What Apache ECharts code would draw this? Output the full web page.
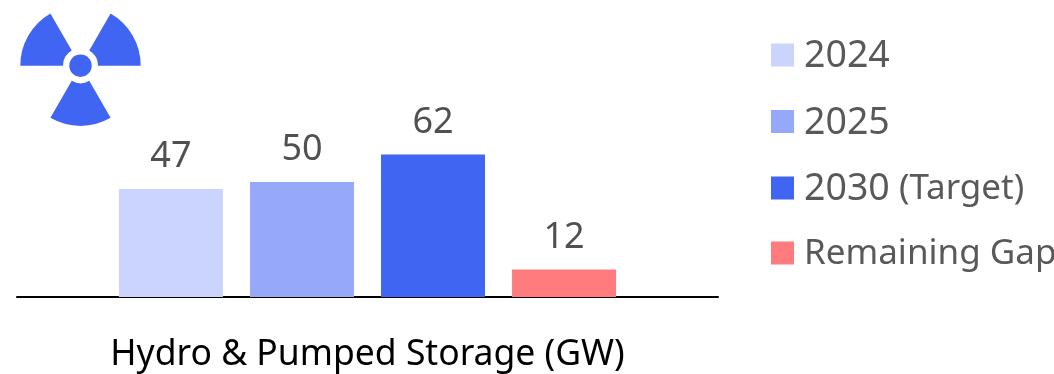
<!DOCTYPE html>
<html>
<head>
<meta charset="utf-8">
<style>html,body{margin:0;padding:0;background:#fff}#c{width:1054px;height:374px}</style>
<script src="https://cdn.jsdelivr.net/npm/echarts@6/dist/echarts.min.js"></script>
</head>
<body>
<div id="c"></div>
<script>
const categories = ['Hydro & Pumped Storage (GW)'];
const seriesNames = ['2024', '2025', '2030 (Target)', 'Remaining Gap'];
const seriesValues = [[47], [50], [62], [12]];
const seriesColors = ['#CAD4FD', '#96A8F9', '#4165F3', '#FF7B7D'];
const FONT = '"Noto Sans", sans-serif';
const BLUE = '#4165F3';

const chart = echarts.init(document.getElementById('c'), null, {renderer: 'canvas'});

// Trefoil emblem: three 60-degree blades around a central dot
const CX = 80.5, CY = 65.7;
const blade = (a0, a1) => ({
  type: 'sector',
  shape: {cx: CX, cy: CY, r: 60.2, r0: 17.5, startAngle: a0 * Math.PI / 180, endAngle: a1 * Math.PI / 180},
  style: {fill: BLUE}
});

// Years run slightly larger than the words beside them
const legendLabel = name => name.replace(/(\d+)?(.*)/, (m, d, t) =>
  (d ? `{d|${d}}` : '') + (t ? `{t|${t}}` : ''));

chart.setOption({
  animation: false,
  grid: {left: 17, right: 336, top: 67, height: 230},
  legend: {
    orient: 'vertical', left: 771, top: 37.5, padding: 0, itemWidth: 23, itemHeight: 23, itemGap: 28.5, icon: 'rect',
    formatter: legendLabel,
    textStyle: {
      color: '#595959',
      padding: [3, 0, 0, 5],
      rich: {
        d: {fontFamily: FONT, fontSize: 37.5, color: '#595959'},
        t: {fontFamily: FONT, fontSize: 35, color: '#595959'}
      }
    },
    data: seriesNames
  },
  xAxis: {
    type: 'category', data: categories,
    axisLine: {lineStyle: {color: '#000', width: 2}},
    axisTick: {show: false},
    axisLabel: {fontSize: 35.5, color: '#000', margin: 40, fontFamily: FONT}
  },
  yAxis: {type: 'value', min: 0, max: 100, show: false, splitLine: {show: false}},
  series: seriesNames.map((name, i) => ({
    name, type: 'bar', data: seriesValues[i], barWidth: 104, barGap: '26%',
    itemStyle: {color: seriesColors[i]},
    label: {show: true, position: 'top', distance: 14, fontSize: 36, color: '#505050', fontFamily: FONT}
  })),
  graphic: [
    blade(180, 240), blade(300, 360), blade(60, 120),
    {type: 'circle', shape: {cx: CX, cy: CY, r: 11.2}, style: {fill: BLUE}}
  ]
});
</script>
</body>
</html>
